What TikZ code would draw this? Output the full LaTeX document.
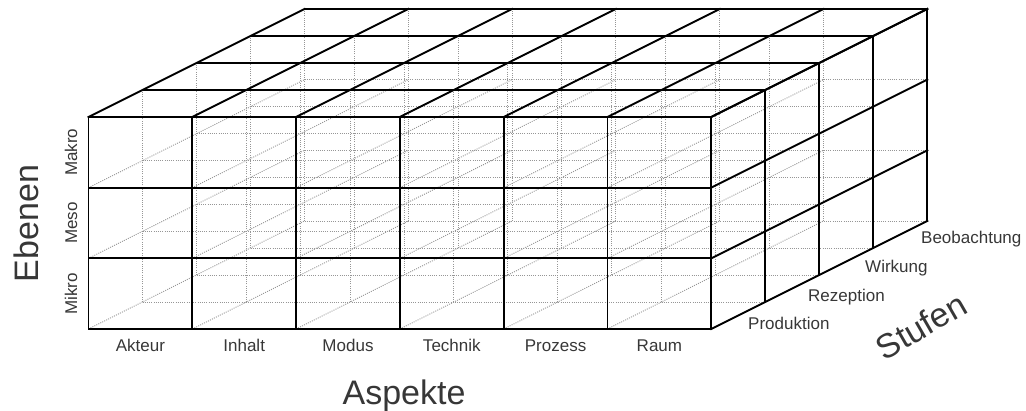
\documentclass[tikz,border=0pt]{standalone}
\usepackage{fontspec}
\setmainfont{Liberation Sans}
\definecolor{txt}{RGB}{55,55,55}
\definecolor{hid}{RGB}{150,150,150}
\tikzset{
  hidden/.style={draw=hid, line width=0.9pt, dash pattern=on 1pt off 1.2pt},
  visible/.style={draw=black, line width=1.9pt, line cap=rect},
  small/.style={text=txt, font=\fontsize{17}{20}\selectfont, inner sep=0pt},
  big/.style={text=txt, font=\fontsize{34}{40}\selectfont, inner sep=0pt}
}
\begin{document}
\begin{tikzpicture}[x=1pt,y=1pt]
\useasboundingbox (0,0) rectangle (1026,411);
\begin{scope}[shift={(88.5pt,82pt)}, x={(103.8pt,0pt)}, y={(0pt,70.67pt)}, z={(54pt,27pt)}]
  % hidden lattice
  \foreach \s in {0,...,4}{
    \foreach \i in {0,...,6}{ \draw[hidden] (\i,0,\s) -- (\i,3,\s); }
    \foreach \j in {0,...,3}{ \draw[hidden] (0,\j,\s) -- (6,\j,\s); }
  }
  \foreach \i in {0,...,6}{
    \foreach \j in {0,...,3}{ \draw[hidden] (\i,\j,0) -- (\i,\j,4); }
  }
  % front face
  \foreach \i in {0,...,6}{ \draw[visible] (\i,0,0) -- (\i,3,0); }
  \foreach \j in {0,...,3}{ \draw[visible] (0,\j,0) -- (6,\j,0); }
  % top face
  \foreach \i in {0,...,6}{ \draw[visible] (\i,3,0) -- (\i,3,4); }
  \foreach \s in {0,...,4}{ \draw[visible] (0,3,\s) -- (6,3,\s); }
  % right face
  \foreach \j in {0,...,3}{ \draw[visible] (6,\j,0) -- (6,\j,4); }
  \foreach \s in {0,...,4}{ \draw[visible] (6,0,\s) -- (6,3,\s); }
\end{scope}
% column labels
\foreach \t [count=\k from 0] in {Akteur,Inhalt,Modus,Technik,Prozess,Raum}{
  \node[small, anchor=base] (col\k) at ({140.4+103.8*\k}, 59) {\t};
}
% row labels
\node[small, rotate=90, anchor=base] (mikro) at (77, 117.3) {Mikro};
\node[small, rotate=90, anchor=base] (meso) at (77, 188) {Meso};
\node[small, rotate=90, anchor=base] (makro) at (77, 258.7) {Makro};
% stage labels
\node[small, anchor=base west] (prod) at (748, 81) {Produktion};
\node[small, anchor=base west] (rez) at (808, 109) {Rezeption};
\node[small, anchor=base west] (wirk) at (865, 138) {Wirkung};
\node[small, anchor=base west] (beob) at (921, 167) {Beobachtung};
% axis titles
\node[big, rotate=90, anchor=base] (ebenen) at (38, 187.5) {Ebenen};
\node[big, anchor=base] (aspekte) at (404, 6) {Aspekte};
\node[big, rotate=30] (stufen) at (921, 85) {Stufen};
\end{tikzpicture}
\end{document}
